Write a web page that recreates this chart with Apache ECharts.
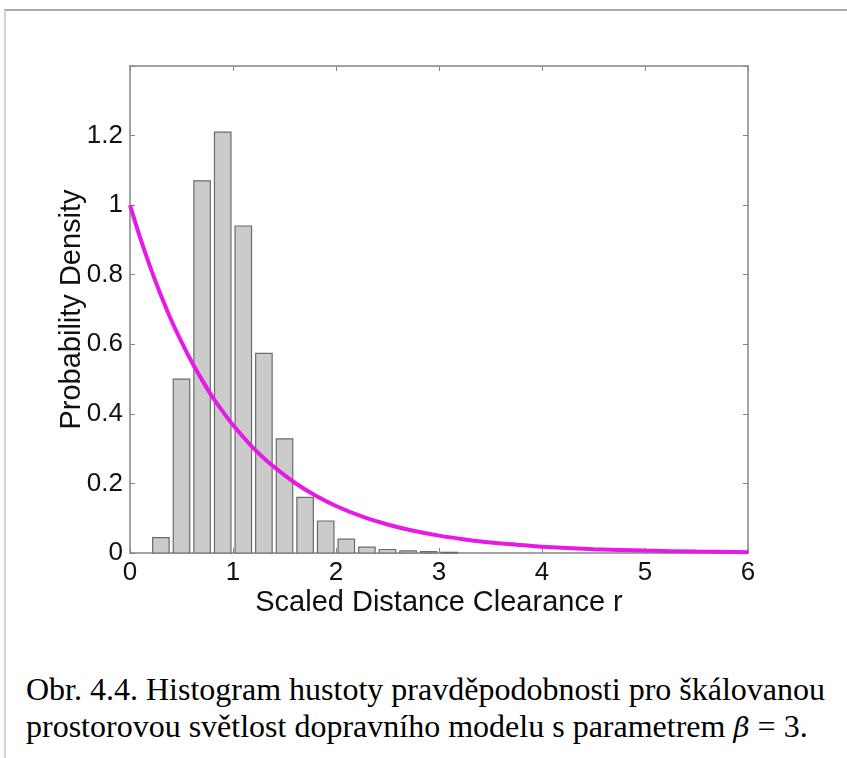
<!DOCTYPE html>
<html>
<head>
<meta charset="utf-8">
<script src="https://cdn.jsdelivr.net/npm/echarts@6/dist/echarts.min.js"></script>
<style>
  html, body { margin: 0; padding: 0; background: #fff; width: 847px; height: 758px; overflow: hidden; }
  #frame { position: absolute; left: 4px; top: 9px; width: 843px; height: 749px;
           border-top: 2px solid #a9a9a9; border-left: 2px solid #d2d2d2; box-sizing: border-box; }
  #chart { position: absolute; left: 0; top: 0; width: 847px; height: 640px; }
  .cap { position: absolute; left: 26px; font-family: "Liberation Serif", "Times New Roman", serif;
         font-size: 32px; color: #000; white-space: nowrap; line-height: 1; }
  .beta { font-family: "DejaVu Serif", "Liberation Serif", serif; font-style: italic; font-size: 28px; }
</style>
</head>
<body>
<div id="frame"></div>
<div id="chart"></div>
<div class="cap" id="cap1" style="top:673px;">Obr. 4.4. Histogram hustoty pravděpodobnosti pro škálovanou</div>
<div class="cap" id="cap2" style="top:710px;">prostorovou světlost dopravního modelu s parametrem <span class="beta">β</span> = 3.</div>
<script>
// Histogram bins (bin centres, width 0.2) and their densities
const binCenters = [0.3, 0.5, 0.7, 0.9, 1.1, 1.3, 1.5, 1.7, 1.9, 2.1, 2.3, 2.5, 2.7, 2.9, 3.1];
const binDensity = [0.044, 0.50, 1.07, 1.21, 0.94, 0.574, 0.328, 0.160, 0.092, 0.040, 0.017, 0.010, 0.006, 0.004, 0.002];
const binWidth = 0.2;
const barFraction = 0.8;

// Reference density curve sampled along r
const curveR = [0, 0.1, 0.2, 0.3, 0.4, 0.5, 0.6, 0.7, 0.8, 0.9, 1, 1.2, 1.4, 1.6, 1.8, 2, 2.25, 2.5, 2.75, 3, 3.25, 3.5, 3.75, 4, 4.5, 5, 5.5, 6];
const curveP = [1, 0.905, 0.819, 0.741, 0.670, 0.607, 0.549, 0.497, 0.449, 0.407, 0.368, 0.301, 0.247, 0.202, 0.165, 0.135, 0.105, 0.082, 0.064, 0.050, 0.039, 0.030, 0.024, 0.018, 0.011, 0.007, 0.004, 0.0025];

// Axis ticks
const xTicks = { min: 0, max: 6, step: 1 };
const yTicks = { min: 0, max: 1.4, step: 0.2 };

const axisColor = '#858585';
const labelFont = { fontFamily: 'Liberation Sans, Arial, sans-serif', color: '#111' };

const chart = echarts.init(document.getElementById('chart'), null, { renderer: 'canvas' });

const frameAxis = {
  axisLine: { show: true, onZero: false, lineStyle: { color: axisColor, width: 1.5 } },
  axisTick: { show: true, inside: true, length: 5, lineStyle: { color: axisColor, width: 1 } },
  axisLabel: { show: false }, splitLine: { show: false }
};

chart.setOption({
  animation: false,
  grid: { left: 130, top: 66, width: 618, height: 487, containLabel: false },
  xAxis: [
    {
      type: 'value', min: xTicks.min, max: xTicks.max, interval: xTicks.step, position: 'bottom',
      axisLine: { show: true, onZero: false, lineStyle: { color: axisColor, width: 1.5 } },
      axisTick: { show: true, inside: true, length: 5, lineStyle: { color: axisColor, width: 1 } },
      splitLine: { show: false },
      axisLabel: { ...labelFont, fontSize: 26, margin: 7 },
      name: 'Scaled Distance Clearance r', nameLocation: 'middle', nameGap: 35,
      nameMoveOverlap: false,
      nameTextStyle: { ...labelFont, fontSize: 29 }
    },
    Object.assign({}, frameAxis, {
      type: 'value', min: xTicks.min, max: xTicks.max, interval: xTicks.step, position: 'top'
    })
  ],
  yAxis: [
    {
      type: 'value', min: yTicks.min, max: yTicks.max, interval: yTicks.step, position: 'left',
      axisLine: { show: true, onZero: false, lineStyle: { color: axisColor, width: 1.5 } },
      axisTick: { show: true, inside: true, length: 5, lineStyle: { color: axisColor, width: 1 } },
      splitLine: { show: false },
      axisLabel: {
        ...labelFont, fontSize: 26, margin: 7,
        formatter: v => (Math.abs(v - yTicks.max) < 1e-9 ? '' : String(Math.round(v * 10) / 10))
      },
      name: 'Probability Density', nameLocation: 'middle', nameGap: 44, nameRotate: 90,
      nameMoveOverlap: false,
      nameTextStyle: { ...labelFont, fontSize: 29 }
    },
    Object.assign({}, frameAxis, {
      type: 'value', min: yTicks.min, max: yTicks.max, interval: yTicks.step, position: 'right'
    })
  ],
  series: [
    {
      type: 'custom',
      xAxisIndex: 0, yAxisIndex: 0,
      data: binCenters.map((c, i) => [c, binDensity[i]]),
      renderItem: (params, api) => {
        const c = api.value(0), h = api.value(1);
        const half = binWidth * barFraction / 2;
        const tl = api.coord([c - half, h]);
        const br = api.coord([c + half, 0]);
        return {
          type: 'rect',
          shape: { x: tl[0], y: tl[1], width: br[0] - tl[0], height: br[1] - tl[1] },
          style: { fill: '#cbcbcb', stroke: '#6b6b6b', lineWidth: 1.2 }
        };
      },
      z: 2
    },
    {
      type: 'line',
      xAxisIndex: 0, yAxisIndex: 0,
      data: curveR.map((r, i) => [r, curveP[i]]),
      smooth: 0.3,
      showSymbol: false, symbol: 'none',
      lineStyle: { color: '#e619e6', width: 4 },
      z: 3
    }
  ]
});
</script>
</body>
</html>
